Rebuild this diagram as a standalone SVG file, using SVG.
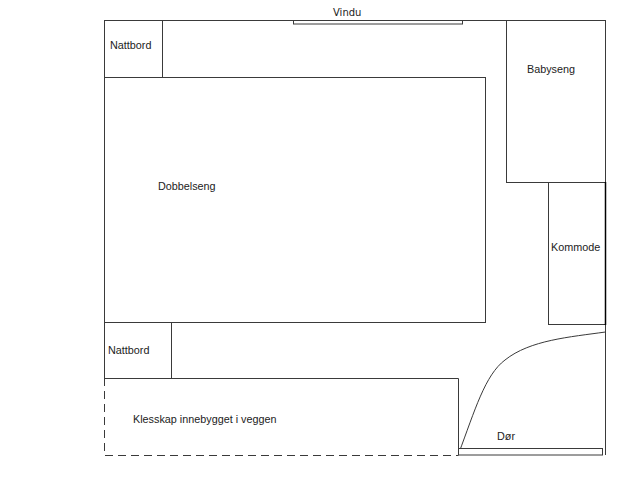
<svg xmlns="http://www.w3.org/2000/svg" width="639" height="478" viewBox="0 0 639 478">
<style>
.w{fill:none;stroke:#3a3a3a;stroke-width:1}
.f{fill:#fff;stroke:#3a3a3a;stroke-width:1}
.t{font-family:"Liberation Sans",Arial,sans-serif;font-size:10.8px;fill:#222}
.d{fill:none;stroke:#3a3a3a;stroke-width:1;stroke-dasharray:8,5}
</style>
<rect width="639" height="478" fill="#fff"/>
<g id="walls">
<path class="w" d="M104.5,378 V20.5 H605.5 V455"/>
<path class="d" d="M104.5,378 V455.5 H458"/>
</g>
<g id="vindu">
<rect class="f" x="293.5" y="20.5" width="169" height="3.5"/>
<text class="t" x="333" y="16" style="font-family:'DejaVu Sans',sans-serif;font-size:10px">Vindu</text>
</g>
<g id="nattbord1">
<rect class="f" x="104.5" y="20.5" width="58" height="57"/>
<text class="t" x="110" y="49">Nattbord</text>
</g>
<g id="dobbelseng">
<rect class="f" x="104.5" y="77.5" width="381" height="245"/>
<text class="t" x="158" y="190">Dobbelseng</text>
</g>
<g id="babyseng">
<rect class="f" x="506.5" y="20.5" width="99" height="162"/>
<text class="t" x="527" y="73">Babyseng</text>
</g>
<g id="kommode">
<rect class="f" x="548.5" y="182.5" width="57" height="142"/>
<line x1="605.5" y1="182" x2="605.5" y2="325" stroke="#000" stroke-width="1.5"/>
<text class="t" x="551" y="251">Kommode</text>
</g>
<g id="nattbord2">
<rect class="f" x="104.5" y="322.5" width="67" height="56"/>
<text class="t" x="108" y="354">Nattbord</text>
</g>
<g id="klesskap">
<path class="w" d="M104.5,378.5 H458.5 V455.5"/>
<text class="t" x="133" y="423">Klesskap innebygget i veggen</text>
</g>
<g id="connectors">
<path class="w" d="M458.5,454 C475,410 485,375 505,360 C530,340 570,337 605.5,332"/>
</g>
<g id="dor">
<rect class="f" x="458.5" y="448.5" width="144" height="6.5"/>
<text class="t" x="497" y="440">Dør</text>
</g>
</svg>
